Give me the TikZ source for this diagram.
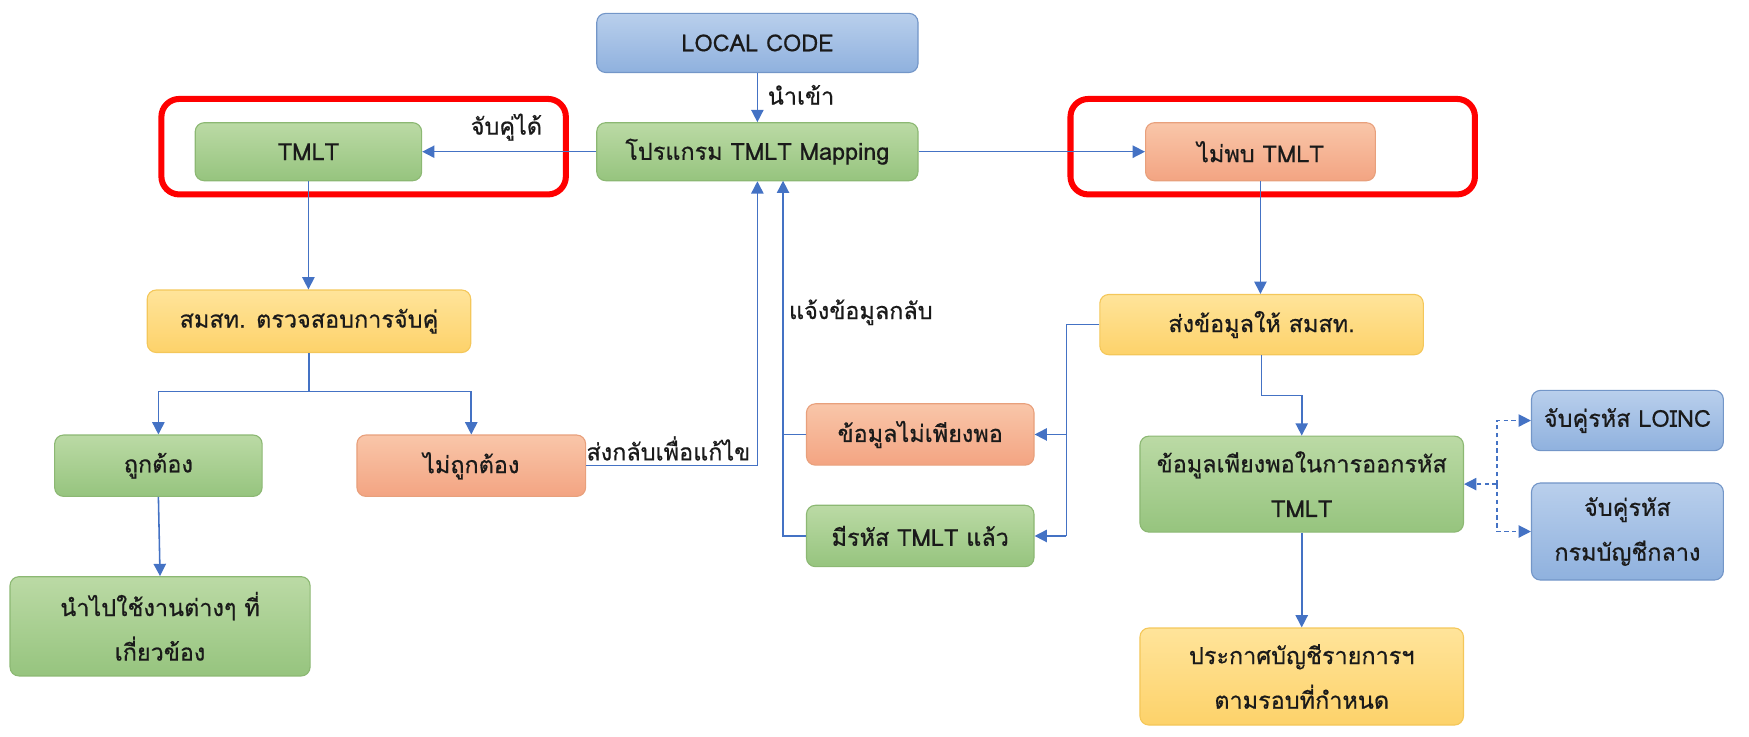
\documentclass[tikz,border=0pt]{standalone}
\usepackage{fontspec}
\setmainfont{Loma}[Script=Thai, FakeBold=0.6]
\usetikzlibrary{arrows.meta}
\definecolor{arrowc}{HTML}{4472C4}
\definecolor{bluetop}{HTML}{B9CFEC}
\definecolor{bluebot}{HTML}{8FB1DE}
\definecolor{bluedraw}{HTML}{7396C8}
\definecolor{greentop}{HTML}{BBDAA5}
\definecolor{greenbot}{HTML}{96C47E}
\definecolor{greendraw}{HTML}{8CB873}
\definecolor{orangetop}{HTML}{F9C6A9}
\definecolor{orangebot}{HTML}{F3A482}
\definecolor{orangedraw}{HTML}{E8A07C}
\definecolor{yellowtop}{HTML}{FFE49A}
\definecolor{yellowbot}{HTML}{FDD26A}
\definecolor{yellowdraw}{HTML}{F4C75A}
\definecolor{txt}{HTML}{1A1A1A}
\tikzset{
  box/.style={rounded corners=4pt, line width=0.5pt, align=center, inner sep=0pt,
    text=txt, font=\fontsize{10.5}{20}\selectfont},
  bluebox/.style={box, top color=bluetop, bottom color=bluebot, draw=bluedraw},
  greenbox/.style={box, top color=greentop, bottom color=greenbot, draw=greendraw},
  orangebox/.style={box, top color=orangetop, bottom color=orangebot, draw=orangedraw},
  yellowbox/.style={box, top color=yellowtop, bottom color=yellowbot, draw=yellowdraw},
  lbl/.style={inner sep=0pt, text=txt, font=\fontsize{10.5}{14}\selectfont},
  conn/.style={draw=arrowc, line width=0.7pt, -{Triangle[length=5.5pt,width=5.5pt]}},
  plainline/.style={draw=arrowc, line width=0.7pt},
  dconn/.style={draw=arrowc, line width=0.6pt, dash pattern=on 2pt off 1.5pt, -{Triangle[length=5.5pt,width=5.5pt]}},
  redbox/.style={draw=red, line width=2.7pt, rounded corners=8pt},
}
\begin{document}
\begin{tikzpicture}[x=0.5pt, y=-0.5pt]
\useasboundingbox (0,0) rectangle (1568,660);
% red highlight frames
\draw[redbox] (144.7,88.7) rectangle (507.3,174.3);
\draw[redbox] (959.7,88.7) rectangle (1322.3,174.3);
% nodes
\node[bluebox, minimum width=144pt, minimum height=26.5pt] (local) at (679,38.5) {LOCAL CODE};
\node[greenbox, minimum width=144pt, minimum height=26pt] (map) at (679,136) {โปรแกรม TMLT Mapping};
\node[greenbox, minimum width=101.5pt, minimum height=26pt] (tmlt) at (276.5,136) {TMLT};
\node[orangebox, minimum width=103pt, minimum height=26pt] (notfound) at (1130,136) {ไม่พบ TMLT};
\node[yellowbox, minimum width=145pt, minimum height=28pt] (check) at (277,288) {สมสท. ตรวจสอบการจับคู่};
\node[greenbox, minimum width=93pt, minimum height=27.5pt] (correct) at (142,417.5) {ถูกต้อง};
\node[orangebox, minimum width=102.5pt, minimum height=27.5pt] (wrong) at (422.5,417.5) {ไม่ถูกต้อง};
\node[greenbox, minimum width=134.5pt, minimum height=44.5pt] (use) at (143.5,561.5) {นำไปใช้งานต่างๆ ที่\\เกี่ยวข้อง};
\node[orangebox, minimum width=102pt, minimum height=27.5pt] (insuff) at (825,389.5) {ข้อมูลไม่เพียงพอ};
\node[greenbox, minimum width=102pt, minimum height=27.5pt] (has) at (825,480.5) {มีรหัส TMLT แล้ว};
\node[yellowbox, minimum width=145pt, minimum height=27pt] (send) at (1131,291) {ส่งข้อมูลให้ สมสท.};
\node[greenbox, minimum width=145pt, minimum height=43pt] (suff) at (1167,434) {ข้อมูลเพียงพอในการออกรหัส\\TMLT};
\node[yellowbox, minimum width=145pt, minimum height=43.5pt] (announce) at (1167,606.5) {ประกาศบัญชีรายการฯ\\ตามรอบที่กำหนด};
\node[bluebox, minimum width=86pt, minimum height=27pt] (loinc) at (1459,377) {จับคู่รหัส LOINC};
\node[bluebox, minimum width=86pt, minimum height=43.5pt] (cgd) at (1459,476.5) {จับคู่รหัส\\กรมบัญชีกลาง};
% labels
\node[lbl, anchor=west] (lin) at (688,85) {นำเข้า};
\node[lbl] (lmatch) at (454,114) {จับคู่ได้};
\node[lbl, anchor=east] (lback) at (673,402) {ส่งกลับเพื่อแก้ไข};
\node[lbl, anchor=west] (linform) at (707,280) {แจ้งข้อมูลกลับ};
% coordinates
\coordinate (br) at (277,351);
\coordinate (fb) at (702,162);
\coordinate (sb) at (956,291);
\coordinate (dj) at (1342,434);
% connectors
\draw[conn] (local) -- (map);
\draw[conn] (map.west) -- (tmlt.east);
\draw[conn] (map.east) -- (notfound.west);
\draw[conn] (tmlt.south) -- (tmlt.south |- check.north);
\draw[plainline] (check.south) -- (br);
\draw[conn] (br) -| (correct.north);
\draw[conn] (br) -| (wrong.north);
\draw[conn] (correct.south) -- (use.north);
\draw[conn] (wrong.east) -| (map.south);
\draw[conn] (has.west) -| (fb);
\draw[plainline] (insuff.west) -- (insuff.west -| fb);
\draw[conn] (notfound.south) -- (notfound.south |- send.north);
\draw[plainline] (send.west) -- (sb) -- (sb |- has.east);
\draw[conn] (sb |- insuff.east) -- (insuff.east);
\draw[conn] (sb |- has.east) -- (has.east);
\draw[conn] (send.south) -- ++(0,36) -| (suff.north);
\draw[conn] (suff.south) -- (announce.north);
\draw[dconn] (dj) -- (suff.east);
\draw[dconn] (dj) |- (loinc.west);
\draw[dconn] (dj) |- (cgd.west);
\end{tikzpicture}
\end{document}
